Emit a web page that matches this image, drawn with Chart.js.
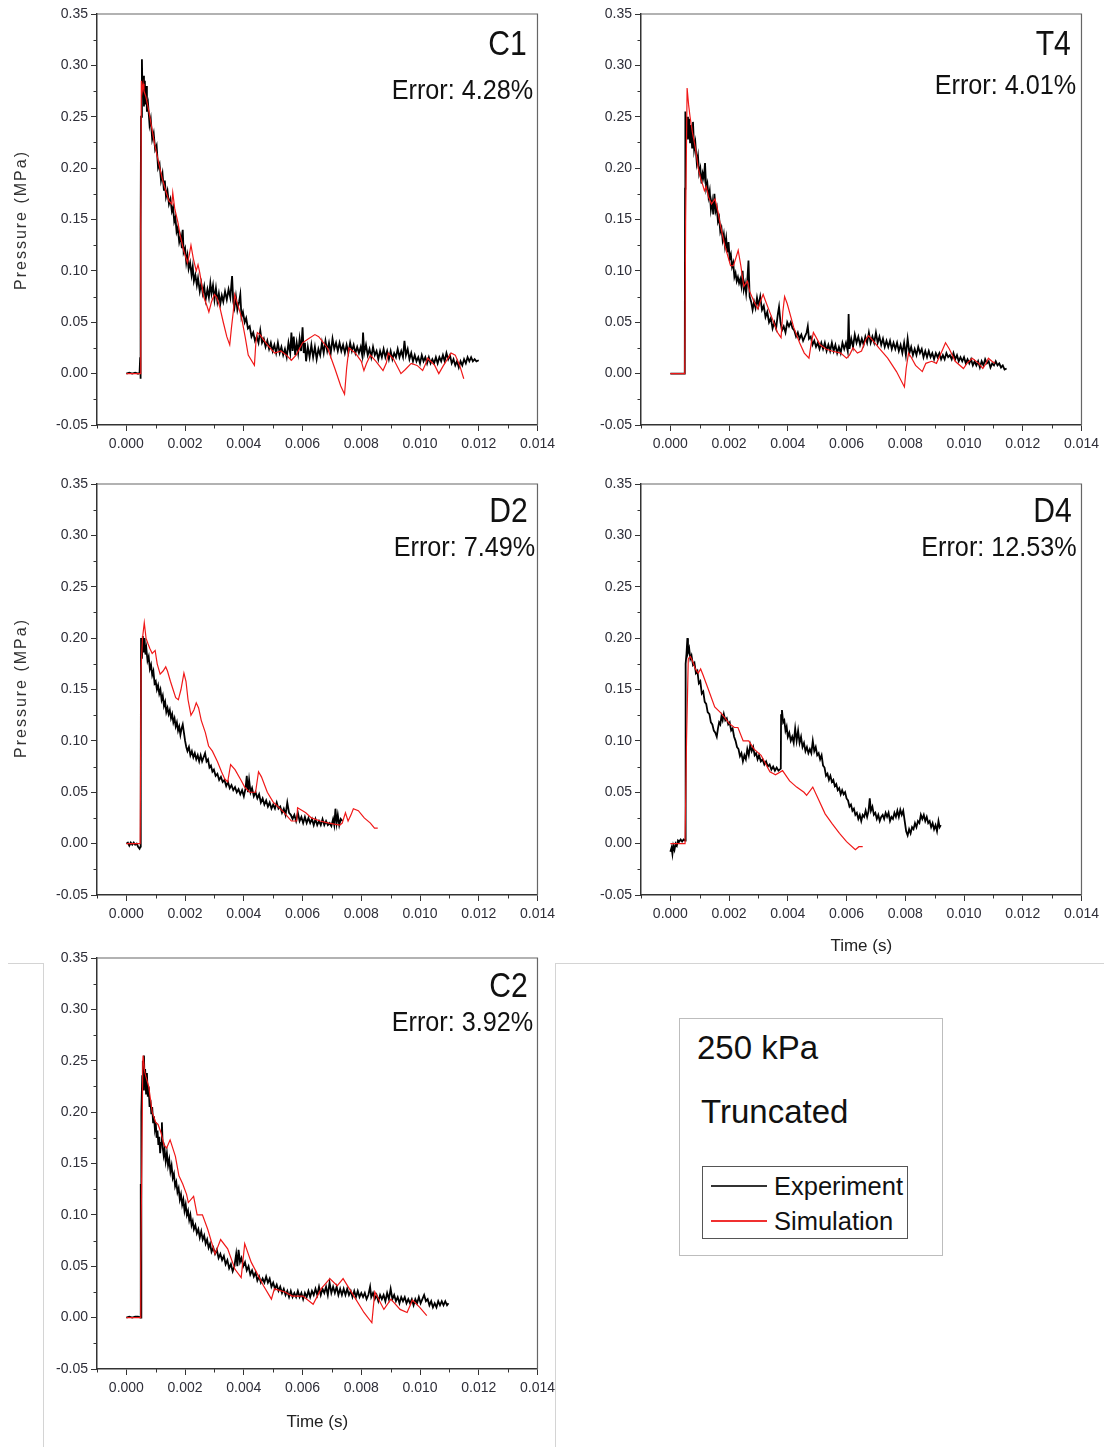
<!DOCTYPE html>
<html>
<head>
<meta charset="utf-8">
<script src="https://cdn.jsdelivr.net/npm/chart.js@4.4.1/dist/chart.umd.min.js"></script>
<style>
  body { margin: 0; background: #fff; }
  #page { position: relative; width: 1104px; height: 1447px; overflow: hidden; background: #fff;
          font-family: "Liberation Sans", Arial, sans-serif; }
  canvas { position: absolute; }
  .name, .err { position: absolute; white-space: nowrap; color: #111; line-height: 1;
                font-family: "Liberation Sans", Arial, sans-serif; transform-origin: right center; }
  .name { font-size: 35px; transform: scaleX(0.86); }
  .err { font-size: 28px; transform: scaleX(0.9); }
  .ytitle { position: absolute; white-space: nowrap; font-size: 16px; letter-spacing: 2px; color: #333;
            transform: translate(-50%, -50%) rotate(-90deg); line-height: 1; }
  .crop { position: absolute; background: #d4d4d4; }
  .box { position: absolute; box-sizing: border-box; }
  .leg { position: absolute; white-space: nowrap; color: #111; line-height: 1; }
</style>
</head>
<body>
<div id="page">
  <canvas id="c1" width="560" height="470" style="left:0;top:0"></canvas>
  <canvas id="t4" width="560" height="470" style="left:544px;top:0"></canvas>
  <canvas id="d2" width="560" height="490" style="left:0;top:470px"></canvas>
  <canvas id="d4" width="560" height="490" style="left:544px;top:470px"></canvas>
  <canvas id="c2" width="560" height="503" style="left:0;top:944px"></canvas>

  <div class="name" style="right:577px;top:25px">C1</div>
  <div class="err" style="right:571px;top:76px">Error: 4.28%</div>
  <div class="name" style="right:33px;top:25px">T4</div>
  <div class="err" style="right:28px;top:71px">Error: 4.01%</div>
  <div class="name" style="right:576px;top:492px">D2</div>
  <div class="err" style="right:569px;top:533px">Error: 7.49%</div>
  <div class="name" style="right:32px;top:492px">D4</div>
  <div class="err" style="right:27px;top:533px">Error: 12.53%</div>
  <div class="name" style="right:576px;top:967px">C2</div>
  <div class="err" style="right:571px;top:1008px">Error: 3.92%</div>

  <div class="ytitle" style="left:21px;top:220px">Pressure (MPa)</div>
  <div class="ytitle" style="left:21px;top:688px">Pressure (MPa)</div>

  <div class="crop" style="left:8px;top:963px;width:35px;height:1px"></div>
  <div class="crop" style="left:43px;top:963px;width:1px;height:484px"></div>
  <div class="crop" style="left:555px;top:963px;width:549px;height:1px"></div>
  <div class="crop" style="left:555px;top:963px;width:1px;height:484px"></div>

  <div class="box" style="left:679px;top:1018px;width:264px;height:238px;border:1px solid #bdbdbd"></div>
  <div class="leg" style="left:697px;top:1031px;font-size:33px">250 kPa</div>
  <div class="leg" style="left:701px;top:1095px;font-size:33px">Truncated</div>
  <div class="box" style="left:702px;top:1166px;width:206px;height:73px;border:1.5px solid #555"></div>
  <div class="box" style="left:711px;top:1185px;width:56px;height:1.5px;background:#333"></div>
  <div class="box" style="left:711px;top:1220px;width:56px;height:1.5px;background:#f03030"></div>
  <div class="leg" style="left:774px;top:1174px;font-size:25.5px">Experiment</div>
  <div class="leg" style="left:774px;top:1209px;font-size:25.5px">Simulation</div>
</div>

<script>
// axis ticks
const xTicks = [0, 0.002, 0.004, 0.006, 0.008, 0.010, 0.012, 0.014];
const xMinorTicks = [-0.001, 0.001, 0.003, 0.005, 0.007, 0.009, 0.011, 0.013];
const yTicks = [-0.05, 0, 0.05, 0.10, 0.15, 0.20, 0.25, 0.30, 0.35];
const yMinorTicks = [-0.025, 0.025, 0.075, 0.125, 0.175, 0.225, 0.275, 0.325];

// C1: [time (s), pressure (MPa)]
const c1Exp = [[0,0],[0.0001,0.001],[0.0002,0],[0.0003,0.001],[0.0004,0],[0.00045,0.001],[0.00047,0.016],[0.00048,-0.005],[0.00049,0.14],[0.0005,0.25],[0.00053,0.306],[0.00055,0.27],[0.00058,0.29],[0.0006,0.26],[0.00063,0.285],[0.00065,0.262],[0.00068,0.28],[0.0007,0.255],[0.00074,0.262],[0.00079,0.242],[0.00083,0.248],[0.00088,0.228],[0.00093,0.234],[0.00098,0.218],[0.00103,0.222],[0.00108,0.2],[0.00113,0.204],[0.00118,0.188],[0.00123,0.195],[0.00128,0.178],[0.00131,0.188],[0.00135,0.172],[0.0014,0.178],[0.00145,0.165],[0.0015,0.17],[0.00155,0.158],[0.00159,0.162],[0.00163,0.148],[0.00167,0.152],[0.00171,0.138],[0.00175,0.142],[0.0018,0.128],[0.00185,0.134],[0.00189,0.122],[0.00192,0.14],[0.00195,0.118],[0.002,0.122],[0.00204,0.108],[0.00208,0.115],[0.00212,0.102],[0.00217,0.108],[0.00222,0.096],[0.00226,0.104],[0.0023,0.09],[0.00235,0.096],[0.0024,0.086],[0.00244,0.093],[0.0025,0.08],[0.00255,0.088],[0.0026,0.078],[0.00265,0.085],[0.0027,0.072],[0.00276,0.082],[0.00281,0.074],[0.00286,0.088],[0.0029,0.078],[0.00295,0.086],[0.003,0.072],[0.00305,0.083],[0.0031,0.07],[0.00315,0.078],[0.0032,0.068],[0.00325,0.076],[0.0033,0.07],[0.00336,0.08],[0.00342,0.072],[0.00348,0.082],[0.00354,0.074],[0.0036,0.095],[0.00364,0.07],[0.00368,0.064],[0.00373,0.075],[0.00378,0.062],[0.00384,0.07],[0.00388,0.077],[0.00392,0.055],[0.00397,0.06],[0.00403,0.05],[0.00408,0.054],[0.00414,0.044],[0.0042,0.046],[0.00426,0.036],[0.00432,0.04],[0.00438,0.032],[0.00444,0.036],[0.0045,0.03],[0.00456,0.042],[0.00462,0.03],[0.00468,0.034],[0.00474,0.026],[0.0048,0.032],[0.00486,0.024],[0.00492,0.03],[0.00498,0.022],[0.00504,0.028],[0.0051,0.02],[0.00516,0.03],[0.00522,0.02],[0.00528,0.026],[0.00534,0.018],[0.0054,0.024],[0.00546,0.016],[0.00552,0.03],[0.00558,0.02],[0.00562,0.04],[0.00566,0.022],[0.0057,0.036],[0.00575,0.018],[0.0058,0.03],[0.00585,0.02],[0.0059,0.034],[0.00595,0.022],[0.006,0.045],[0.00604,0.02],[0.00608,0.03],[0.00612,0.012],[0.00618,0.026],[0.00624,0.016],[0.0063,0.028],[0.00636,0.016],[0.00642,0.026],[0.00648,0.014],[0.00654,0.024],[0.0066,0.018],[0.00666,0.03],[0.00672,0.02],[0.00678,0.032],[0.00684,0.022],[0.0069,0.03],[0.00696,0.02],[0.00702,0.034],[0.00708,0.024],[0.00714,0.03],[0.0072,0.022],[0.00726,0.03],[0.00732,0.022],[0.00738,0.028],[0.00744,0.02],[0.0075,0.028],[0.00756,0.02],[0.00762,0.03],[0.00768,0.022],[0.00774,0.028],[0.0078,0.02],[0.00786,0.026],[0.00792,0.02],[0.00798,0.026],[0.00803,0.018],[0.00806,0.04],[0.0081,0.02],[0.00816,0.028],[0.00822,0.018],[0.00828,0.024],[0.00834,0.016],[0.0084,0.026],[0.00846,0.018],[0.00852,0.022],[0.00858,0.014],[0.00864,0.022],[0.0087,0.016],[0.00876,0.024],[0.00882,0.016],[0.00888,0.022],[0.00894,0.014],[0.009,0.022],[0.00906,0.014],[0.00912,0.02],[0.00918,0.016],[0.00924,0.024],[0.0093,0.016],[0.00936,0.022],[0.00942,0.016],[0.00947,0.032],[0.00952,0.018],[0.00958,0.024],[0.00964,0.014],[0.0097,0.02],[0.00976,0.012],[0.00982,0.018],[0.00988,0.012],[0.00994,0.016],[0.01,0.01],[0.01006,0.018],[0.01012,0.012],[0.01018,0.016],[0.01024,0.01],[0.0103,0.016],[0.01036,0.01],[0.01042,0.014],[0.01048,0.01],[0.01054,0.016],[0.0106,0.01],[0.01066,0.016],[0.01072,0.012],[0.01078,0.018],[0.01084,0.012],[0.0109,0.02],[0.01096,0.014],[0.01102,0.018],[0.01108,0.01],[0.01114,0.014],[0.0112,0.008],[0.01126,0.012],[0.01132,0.006],[0.01138,0.012],[0.01144,0.008],[0.0115,0.014],[0.01156,0.01],[0.01162,0.016],[0.01168,0.012],[0.01174,0.016],[0.0118,0.012],[0.01186,0.014],[0.01192,0.012],[0.012,0.013]];
const c1Sim = [[0,0],[0.00047,0],[0.00049,0.14],[0.00051,0.285],[0.00054,0.275],[0.00057,0.282],[0.0006,0.275],[0.00066,0.27],[0.00072,0.262],[0.0008,0.25],[0.00086,0.24],[0.00095,0.225],[0.0011,0.205],[0.00122,0.19],[0.00134,0.178],[0.00145,0.168],[0.00155,0.165],[0.00158,0.176],[0.00165,0.16],[0.00175,0.148],[0.00183,0.135],[0.00195,0.12],[0.00208,0.108],[0.00214,0.115],[0.0022,0.125],[0.00228,0.112],[0.00238,0.1],[0.00244,0.106],[0.0025,0.098],[0.00263,0.075],[0.00272,0.068],[0.00281,0.06],[0.0029,0.07],[0.003,0.077],[0.00308,0.074],[0.00318,0.065],[0.0033,0.05],[0.00342,0.036],[0.00352,0.028],[0.00358,0.045],[0.00364,0.06],[0.00369,0.077],[0.00376,0.07],[0.00392,0.055],[0.00405,0.035],[0.00415,0.018],[0.00436,0.008],[0.00441,0.03],[0.00446,0.04],[0.00455,0.038],[0.00475,0.03],[0.00489,0.025],[0.00505,0.02],[0.00526,0.022],[0.00545,0.018],[0.00562,0.013],[0.00578,0.018],[0.006,0.03],[0.0062,0.034],[0.00642,0.038],[0.00655,0.036],[0.00685,0.025],[0.0071,0.005],[0.0073,-0.012],[0.00743,-0.02],[0.0075,0.005],[0.00758,0.025],[0.0078,0.02],[0.008,0.012],[0.00809,0.003],[0.00818,0.01],[0.00831,0.018],[0.0085,0.012],[0.00874,0.003],[0.00885,0.01],[0.00892,0.02],[0.0091,0.014],[0.00935,0],[0.0095,0.004],[0.0097,0.01],[0.0099,0.008],[0.01009,0.003],[0.0102,0.01],[0.01026,0.015],[0.0105,0.008],[0.01064,0],[0.0108,0.008],[0.01106,0.02],[0.0112,0.018],[0.01135,0.008],[0.01149,-0.005]];

// T4
const t4Exp = [[0,0],[0.0002,0],[0.0004,0],[0.00049,0],[0.0005,0.18],[0.00051,0.255],[0.00054,0.232],[0.00057,0.25],[0.0006,0.228],[0.00064,0.248],[0.00067,0.225],[0.0007,0.242],[0.00074,0.22],[0.00077,0.245],[0.00081,0.218],[0.00085,0.225],[0.0009,0.205],[0.00094,0.212],[0.00098,0.195],[0.00102,0.2],[0.00106,0.185],[0.0011,0.195],[0.00114,0.19],[0.00118,0.205],[0.00122,0.18],[0.00126,0.185],[0.0013,0.172],[0.00134,0.178],[0.00138,0.16],[0.00142,0.168],[0.00146,0.155],[0.0015,0.175],[0.00154,0.158],[0.00158,0.162],[0.00162,0.148],[0.00166,0.152],[0.0017,0.138],[0.00174,0.142],[0.00178,0.13],[0.00182,0.136],[0.00186,0.124],[0.0019,0.132],[0.00194,0.118],[0.00198,0.128],[0.00202,0.112],[0.00206,0.116],[0.0021,0.104],[0.00214,0.108],[0.00218,0.094],[0.00222,0.098],[0.00226,0.09],[0.0023,0.094],[0.00234,0.088],[0.00238,0.092],[0.00242,0.085],[0.00246,0.1],[0.0025,0.082],[0.00254,0.088],[0.00258,0.078],[0.00262,0.09],[0.00266,0.11],[0.0027,0.075],[0.00275,0.07],[0.0028,0.062],[0.00285,0.07],[0.0029,0.064],[0.00295,0.074],[0.003,0.066],[0.00306,0.075],[0.00312,0.062],[0.00318,0.066],[0.00324,0.055],[0.0033,0.06],[0.00336,0.05],[0.00342,0.054],[0.00348,0.044],[0.00354,0.05],[0.0036,0.044],[0.00366,0.058],[0.0037,0.065],[0.00375,0.05],[0.0038,0.042],[0.00386,0.046],[0.00392,0.04],[0.00398,0.05],[0.00404,0.046],[0.0041,0.05],[0.00416,0.044],[0.00422,0.042],[0.00428,0.036],[0.00434,0.04],[0.0044,0.034],[0.00446,0.038],[0.00452,0.032],[0.00458,0.036],[0.00464,0.04],[0.00468,0.046],[0.00472,0.034],[0.00478,0.036],[0.00484,0.028],[0.0049,0.032],[0.00496,0.026],[0.00502,0.03],[0.00508,0.024],[0.00514,0.03],[0.0052,0.024],[0.00526,0.03],[0.00532,0.022],[0.00538,0.028],[0.00544,0.022],[0.0055,0.03],[0.00556,0.022],[0.00562,0.028],[0.00568,0.02],[0.00574,0.026],[0.0058,0.02],[0.00586,0.03],[0.00592,0.024],[0.00598,0.03],[0.00604,0.022],[0.00607,0.058],[0.0061,0.024],[0.00616,0.034],[0.00622,0.026],[0.00628,0.038],[0.00634,0.03],[0.0064,0.036],[0.00646,0.028],[0.00652,0.034],[0.00658,0.028],[0.00664,0.036],[0.0067,0.03],[0.00676,0.04],[0.00682,0.03],[0.00688,0.036],[0.00694,0.03],[0.007,0.04],[0.00706,0.03],[0.00712,0.036],[0.00718,0.028],[0.00724,0.034],[0.0073,0.026],[0.00736,0.032],[0.00742,0.026],[0.00748,0.032],[0.00754,0.024],[0.0076,0.03],[0.00766,0.024],[0.00772,0.03],[0.00778,0.022],[0.00784,0.028],[0.0079,0.02],[0.00796,0.03],[0.00802,0.018],[0.00808,0.034],[0.00814,0.02],[0.0082,0.026],[0.00826,0.018],[0.00832,0.024],[0.00838,0.018],[0.00844,0.026],[0.0085,0.02],[0.00856,0.024],[0.00862,0.016],[0.00868,0.022],[0.00874,0.016],[0.0088,0.022],[0.00886,0.016],[0.00892,0.02],[0.00898,0.014],[0.00904,0.02],[0.0091,0.016],[0.00916,0.02],[0.00922,0.014],[0.00928,0.018],[0.00934,0.014],[0.0094,0.02],[0.00946,0.016],[0.00952,0.018],[0.00958,0.014],[0.00964,0.02],[0.0097,0.014],[0.00976,0.018],[0.00982,0.012],[0.00988,0.016],[0.00994,0.012],[0.01,0.016],[0.01006,0.01],[0.01012,0.014],[0.01018,0.01],[0.01024,0.014],[0.0103,0.008],[0.01036,0.012],[0.01042,0.008],[0.01048,0.012],[0.01054,0.006],[0.0106,0.012],[0.01066,0.008],[0.01072,0.014],[0.01078,0.01],[0.01084,0.012],[0.0109,0.006],[0.01096,0.01],[0.01102,0.008],[0.01108,0.012],[0.01114,0.008],[0.0112,0.01],[0.01126,0.006],[0.01132,0.008],[0.01138,0.004],[0.01145,0.005]];
const t4Sim = [[0,0],[0.00049,0],[0.00052,0.15],[0.00057,0.278],[0.00062,0.262],[0.00067,0.25],[0.00075,0.235],[0.00085,0.22],[0.00095,0.2],[0.00103,0.19],[0.00112,0.182],[0.00116,0.178],[0.00122,0.182],[0.0013,0.172],[0.0014,0.165],[0.00152,0.17],[0.00162,0.158],[0.0017,0.145],[0.00185,0.125],[0.00205,0.105],[0.00215,0.105],[0.00231,0.12],[0.0024,0.105],[0.0025,0.085],[0.00262,0.09],[0.0027,0.08],[0.00285,0.07],[0.00298,0.063],[0.00306,0.07],[0.00316,0.077],[0.00325,0.07],[0.00345,0.055],[0.00365,0.04],[0.00377,0.035],[0.00383,0.06],[0.00389,0.075],[0.00398,0.068],[0.0042,0.045],[0.0044,0.03],[0.00456,0.02],[0.00472,0.015],[0.0048,0.03],[0.00487,0.04],[0.00495,0.036],[0.0051,0.028],[0.0053,0.024],[0.0055,0.022],[0.0058,0.02],[0.006,0.015],[0.0061,0.018],[0.00622,0.025],[0.00637,0.02],[0.00651,0.022],[0.00665,0.033],[0.00675,0.037],[0.0069,0.032],[0.0071,0.025],[0.0074,0.015],[0.0077,0.002],[0.00797,-0.013],[0.00803,0.005],[0.00811,0.02],[0.0082,0.016],[0.00835,0.008],[0.00858,0.002],[0.0087,0.01],[0.0089,0.012],[0.00906,0.01],[0.00925,0.022],[0.00937,0.03],[0.0095,0.024],[0.0097,0.012],[0.00998,0.005],[0.0101,0.01],[0.01028,0.015],[0.0105,0.01],[0.01064,0.005],[0.01075,0.01],[0.01083,0.015],[0.01095,0.012],[0.01105,0.01]];

// D2
const d2Exp = [[0,0],[0.00005,0.001],[0.0001,-0.002],[0.00015,0.001],[0.0002,-0.001],[0.00025,0.001],[0.0003,-0.001],[0.00035,0],[0.0004,-0.003],[0.00045,-0.005],[0.00048,-0.003],[0.00049,0.075],[0.0005,0.2],[0.00053,0.18],[0.00056,0.202],[0.00059,0.186],[0.00062,0.2],[0.00065,0.184],[0.00068,0.19],[0.00072,0.178],[0.00076,0.182],[0.0008,0.17],[0.00084,0.174],[0.00088,0.164],[0.00092,0.168],[0.00096,0.156],[0.001,0.158],[0.00104,0.15],[0.00108,0.154],[0.00112,0.146],[0.00116,0.15],[0.0012,0.14],[0.00124,0.144],[0.00128,0.134],[0.00132,0.138],[0.00136,0.128],[0.0014,0.132],[0.00144,0.126],[0.00148,0.13],[0.00152,0.122],[0.00156,0.126],[0.0016,0.118],[0.00164,0.122],[0.00168,0.114],[0.00172,0.118],[0.00176,0.11],[0.0018,0.114],[0.00184,0.106],[0.00188,0.112],[0.00192,0.116],[0.00196,0.108],[0.002,0.1],[0.00204,0.094],[0.00208,0.09],[0.00213,0.094],[0.00218,0.086],[0.00223,0.09],[0.00228,0.084],[0.00233,0.088],[0.00238,0.082],[0.00243,0.086],[0.00248,0.08],[0.00253,0.086],[0.00258,0.08],[0.00263,0.084],[0.00268,0.088],[0.00273,0.08],[0.00278,0.082],[0.00283,0.074],[0.00288,0.076],[0.00293,0.07],[0.00298,0.072],[0.00304,0.066],[0.0031,0.068],[0.00316,0.062],[0.00322,0.065],[0.00328,0.06],[0.00334,0.062],[0.0034,0.056],[0.00346,0.06],[0.00352,0.054],[0.00358,0.057],[0.00364,0.052],[0.0037,0.055],[0.00376,0.05],[0.00382,0.053],[0.00388,0.048],[0.00394,0.052],[0.004,0.046],[0.00406,0.054],[0.0041,0.066],[0.00414,0.05],[0.00418,0.062],[0.00423,0.05],[0.00428,0.054],[0.00434,0.046],[0.0044,0.05],[0.00446,0.044],[0.00452,0.048],[0.00458,0.04],[0.00464,0.044],[0.0047,0.038],[0.00476,0.042],[0.00482,0.036],[0.00488,0.04],[0.00494,0.034],[0.005,0.038],[0.00506,0.034],[0.00512,0.04],[0.00518,0.034],[0.00524,0.036],[0.0053,0.03],[0.00536,0.034],[0.00542,0.028],[0.00548,0.04],[0.00554,0.03],[0.0056,0.028],[0.00566,0.024],[0.00572,0.028],[0.00578,0.022],[0.00584,0.03],[0.0059,0.022],[0.00596,0.026],[0.00602,0.02],[0.00608,0.026],[0.00614,0.02],[0.0062,0.025],[0.00626,0.02],[0.00632,0.024],[0.00638,0.018],[0.00644,0.024],[0.0065,0.018],[0.00656,0.022],[0.00662,0.018],[0.00668,0.024],[0.00674,0.018],[0.0068,0.022],[0.00686,0.018],[0.00692,0.02],[0.00698,0.017],[0.00704,0.024],[0.00708,0.018],[0.00712,0.034],[0.00716,0.02],[0.0072,0.028],[0.00725,0.018],[0.0073,0.024],[0.00736,0.022]];
const d2Sim = [[0,0],[0.00047,0],[0.0005,0.17],[0.00055,0.2],[0.00061,0.215],[0.00067,0.2],[0.00073,0.195],[0.0008,0.19],[0.00088,0.185],[0.00098,0.188],[0.00105,0.175],[0.00115,0.165],[0.00125,0.168],[0.00134,0.172],[0.0014,0.168],[0.0015,0.158],[0.00159,0.15],[0.00168,0.142],[0.00177,0.14],[0.00186,0.15],[0.00196,0.166],[0.00203,0.158],[0.0021,0.14],[0.0022,0.125],[0.0023,0.13],[0.00238,0.137],[0.00246,0.132],[0.00255,0.12],[0.00269,0.108],[0.0028,0.095],[0.00293,0.09],[0.0031,0.08],[0.00324,0.07],[0.00335,0.063],[0.00345,0.06],[0.00355,0.077],[0.0037,0.072],[0.0039,0.062],[0.00403,0.055],[0.0042,0.05],[0.0044,0.05],[0.0045,0.07],[0.0046,0.065],[0.0048,0.05],[0.00501,0.04],[0.0052,0.035],[0.00538,0.03],[0.00562,0.022],[0.0058,0.022],[0.00583,0.035],[0.006,0.032],[0.00611,0.03],[0.0063,0.025],[0.0066,0.022],[0.0069,0.02],[0.00727,0.018],[0.00735,0.02],[0.00746,0.03],[0.00755,0.022],[0.00765,0.028],[0.00773,0.034],[0.0079,0.032],[0.0081,0.025],[0.00831,0.02],[0.00845,0.015],[0.00856,0.015]];

// D4
const d4Exp = [[0,-0.008],[0.00004,-0.004],[0.00007,-0.01],[0.0001,-0.002],[0.00014,-0.006],[0.00018,0],[0.00022,-0.002],[0.00026,0.003],[0.0003,0.002],[0.00035,0.004],[0.0004,0.002],[0.00045,0.004],[0.0005,0.003],[0.00051,0.09],[0.00053,0.175],[0.00055,0.185],[0.00058,0.2],[0.0006,0.186],[0.00064,0.19],[0.00068,0.18],[0.00072,0.183],[0.00077,0.174],[0.00082,0.176],[0.00087,0.166],[0.00092,0.168],[0.00097,0.156],[0.00102,0.158],[0.00107,0.146],[0.00112,0.148],[0.00117,0.138],[0.00122,0.136],[0.00127,0.128],[0.00133,0.126],[0.00138,0.118],[0.00143,0.116],[0.00148,0.11],[0.00153,0.108],[0.00158,0.104],[0.00162,0.112],[0.00166,0.118],[0.0017,0.116],[0.00174,0.124],[0.00178,0.12],[0.00182,0.126],[0.00187,0.12],[0.00192,0.122],[0.00197,0.116],[0.00202,0.118],[0.00207,0.11],[0.00212,0.112],[0.00217,0.104],[0.00222,0.1],[0.00227,0.094],[0.00232,0.092],[0.00237,0.085],[0.00242,0.088],[0.00247,0.08],[0.00252,0.086],[0.00257,0.082],[0.00262,0.092],[0.00267,0.086],[0.00272,0.096],[0.00277,0.09],[0.00282,0.094],[0.00287,0.086],[0.00292,0.088],[0.00297,0.082],[0.00302,0.086],[0.00308,0.08],[0.00314,0.082],[0.0032,0.077],[0.00326,0.08],[0.00332,0.075],[0.00338,0.077],[0.00344,0.072],[0.0035,0.075],[0.00356,0.071],[0.00362,0.074],[0.00368,0.071],[0.00376,0.073],[0.00377,0.125],[0.0038,0.13],[0.00384,0.118],[0.00388,0.12],[0.00392,0.11],[0.00396,0.114],[0.004,0.104],[0.00405,0.108],[0.0041,0.1],[0.00415,0.104],[0.0042,0.098],[0.00425,0.112],[0.0043,0.1],[0.00435,0.11],[0.0044,0.098],[0.00445,0.104],[0.0045,0.094],[0.00455,0.098],[0.0046,0.09],[0.00465,0.094],[0.0047,0.088],[0.00475,0.092],[0.0048,0.088],[0.00485,0.1],[0.0049,0.09],[0.00495,0.094],[0.005,0.086],[0.00505,0.088],[0.0051,0.082],[0.00515,0.086],[0.0052,0.076],[0.00525,0.074],[0.0053,0.066],[0.00535,0.068],[0.0054,0.062],[0.00545,0.066],[0.0055,0.06],[0.00555,0.062],[0.0056,0.056],[0.00565,0.058],[0.0057,0.052],[0.00575,0.054],[0.0058,0.048],[0.00585,0.052],[0.0059,0.048],[0.00595,0.05],[0.006,0.044],[0.00605,0.042],[0.0061,0.036],[0.00615,0.038],[0.0062,0.032],[0.00625,0.034],[0.0063,0.028],[0.00635,0.03],[0.0064,0.024],[0.00645,0.028],[0.0065,0.022],[0.00655,0.028],[0.0066,0.026],[0.00665,0.032],[0.0067,0.026],[0.00675,0.032],[0.00679,0.044],[0.00683,0.032],[0.00688,0.036],[0.00693,0.028],[0.00698,0.03],[0.00703,0.024],[0.00708,0.028],[0.00713,0.022],[0.00718,0.026],[0.00723,0.028],[0.00728,0.024],[0.00733,0.03],[0.00738,0.026],[0.00743,0.03],[0.00748,0.022],[0.00753,0.026],[0.00758,0.024],[0.00763,0.03],[0.00768,0.026],[0.00773,0.032],[0.00778,0.026],[0.00783,0.033],[0.00788,0.028],[0.00793,0.032],[0.00798,0.022],[0.00803,0.012],[0.00808,0.008],[0.00813,0.014],[0.00818,0.01],[0.00823,0.016],[0.00828,0.014],[0.00833,0.02],[0.00838,0.016],[0.00843,0.022],[0.00848,0.02],[0.00853,0.028],[0.00858,0.024],[0.00863,0.028],[0.00868,0.022],[0.00873,0.026],[0.00878,0.02],[0.00883,0.022],[0.00888,0.016],[0.00893,0.02],[0.00898,0.014],[0.00903,0.018],[0.00908,0.012],[0.00913,0.022],[0.00917,0.016],[0.00921,0.018]];
const d4Sim = [[0,0],[0.0005,0],[0.00051,0],[0.00055,0.1],[0.00061,0.18],[0.00068,0.182],[0.00075,0.178],[0.00085,0.17],[0.00095,0.166],[0.00103,0.17],[0.0011,0.165],[0.00127,0.152],[0.00151,0.133],[0.00176,0.126],[0.002,0.117],[0.00218,0.113],[0.0023,0.113],[0.00248,0.1],[0.00267,0.1],[0.00285,0.092],[0.00309,0.086],[0.00339,0.07],[0.00358,0.067],[0.00382,0.071],[0.00406,0.061],[0.0043,0.055],[0.00455,0.05],[0.00464,0.047],[0.00485,0.055],[0.00503,0.044],[0.00527,0.029],[0.00552,0.019],[0.00576,0.01],[0.006,0.002],[0.0063,-0.006],[0.00642,-0.003],[0.00655,-0.003]];

// C2
const c2Exp = [[0,0],[0.0001,0.001],[0.0002,0],[0.0003,0.001],[0.0004,0.001],[0.00048,0],[0.00049,0.13],[0.0005,0],[0.00051,0.2],[0.00054,0.235],[0.00056,0.25],[0.00058,0.222],[0.0006,0.255],[0.00062,0.228],[0.00064,0.242],[0.00067,0.218],[0.0007,0.238],[0.00073,0.215],[0.00076,0.225],[0.00079,0.205],[0.00082,0.212],[0.00085,0.198],[0.00088,0.205],[0.00091,0.19],[0.00094,0.196],[0.00097,0.184],[0.001,0.19],[0.00103,0.175],[0.00106,0.182],[0.00109,0.168],[0.00112,0.176],[0.00115,0.16],[0.00118,0.17],[0.00121,0.19],[0.00124,0.165],[0.00127,0.158],[0.0013,0.164],[0.00134,0.152],[0.00138,0.16],[0.00142,0.148],[0.00146,0.154],[0.0015,0.142],[0.00154,0.148],[0.00158,0.136],[0.00162,0.14],[0.00166,0.128],[0.0017,0.132],[0.00174,0.122],[0.00178,0.126],[0.00182,0.115],[0.00186,0.12],[0.0019,0.11],[0.00194,0.115],[0.00198,0.104],[0.00202,0.11],[0.00206,0.1],[0.0021,0.104],[0.00214,0.095],[0.00218,0.1],[0.00222,0.09],[0.00226,0.094],[0.0023,0.086],[0.00235,0.09],[0.0024,0.082],[0.00245,0.086],[0.0025,0.078],[0.00255,0.084],[0.0026,0.076],[0.00265,0.08],[0.0027,0.072],[0.00275,0.076],[0.0028,0.068],[0.00285,0.072],[0.0029,0.064],[0.00296,0.068],[0.00302,0.062],[0.00308,0.066],[0.00314,0.058],[0.0032,0.062],[0.00326,0.056],[0.00332,0.06],[0.00338,0.052],[0.00344,0.056],[0.0035,0.048],[0.00356,0.052],[0.00362,0.045],[0.00368,0.05],[0.00374,0.062],[0.00378,0.05],[0.00382,0.066],[0.00387,0.054],[0.00392,0.058],[0.00398,0.05],[0.00404,0.054],[0.0041,0.046],[0.00416,0.05],[0.00422,0.042],[0.00428,0.046],[0.00434,0.04],[0.0044,0.044],[0.00446,0.036],[0.00452,0.04],[0.00458,0.034],[0.00464,0.038],[0.0047,0.034],[0.00476,0.04],[0.00482,0.034],[0.00488,0.038],[0.00494,0.03],[0.005,0.034],[0.00506,0.028],[0.00512,0.032],[0.00518,0.026],[0.00524,0.03],[0.0053,0.024],[0.00536,0.028],[0.00542,0.022],[0.00548,0.026],[0.00554,0.02],[0.0056,0.026],[0.00566,0.02],[0.00572,0.024],[0.00578,0.02],[0.00584,0.026],[0.0059,0.02],[0.00596,0.024],[0.00602,0.018],[0.00608,0.024],[0.00614,0.02],[0.0062,0.026],[0.00626,0.02],[0.00632,0.026],[0.00638,0.022],[0.00644,0.028],[0.0065,0.022],[0.00656,0.03],[0.00662,0.022],[0.00668,0.028],[0.00674,0.024],[0.0068,0.03],[0.00686,0.022],[0.00692,0.034],[0.00698,0.024],[0.00704,0.03],[0.0071,0.024],[0.00716,0.03],[0.00722,0.022],[0.00728,0.028],[0.00734,0.022],[0.0074,0.028],[0.00746,0.022],[0.00752,0.028],[0.00758,0.022],[0.00764,0.026],[0.0077,0.02],[0.00776,0.026],[0.00782,0.02],[0.00788,0.026],[0.00794,0.02],[0.008,0.024],[0.00806,0.02],[0.00812,0.024],[0.00818,0.018],[0.00824,0.022],[0.0083,0.03],[0.00834,0.02],[0.0084,0.024],[0.00846,0.018],[0.00852,0.022],[0.00858,0.016],[0.00864,0.022],[0.0087,0.018],[0.00876,0.022],[0.00882,0.016],[0.00888,0.024],[0.00894,0.018],[0.009,0.028],[0.00906,0.018],[0.00912,0.022],[0.00918,0.016],[0.00924,0.02],[0.0093,0.014],[0.00936,0.02],[0.00942,0.016],[0.00948,0.02],[0.00954,0.014],[0.0096,0.018],[0.00966,0.014],[0.00972,0.018],[0.00978,0.012],[0.00984,0.018],[0.0099,0.014],[0.00996,0.02],[0.01002,0.014],[0.01008,0.018],[0.01014,0.022],[0.0102,0.016],[0.01026,0.018],[0.01032,0.012],[0.01038,0.016],[0.01044,0.01],[0.0105,0.014],[0.01056,0.01],[0.01062,0.016],[0.01068,0.012],[0.01074,0.016],[0.0108,0.012],[0.01086,0.016],[0.01092,0.012],[0.01097,0.014]];
const c2Sim = [[0,0],[0.00048,0],[0.00049,0.05],[0.00056,0.25],[0.00057,0.255],[0.00062,0.24],[0.00066,0.235],[0.00076,0.225],[0.00088,0.2],[0.001,0.19],[0.00108,0.188],[0.00118,0.18],[0.00128,0.168],[0.00137,0.165],[0.00149,0.173],[0.00167,0.157],[0.00179,0.138],[0.00192,0.13],[0.00205,0.12],[0.00211,0.112],[0.00229,0.118],[0.00241,0.1],[0.00259,0.1],[0.00277,0.086],[0.00302,0.062],[0.00321,0.076],[0.00345,0.067],[0.0037,0.047],[0.00391,0.039],[0.00403,0.072],[0.00425,0.054],[0.00467,0.031],[0.00494,0.018],[0.00504,0.028],[0.0054,0.025],[0.00565,0.021],[0.00601,0.021],[0.00636,0.013],[0.00663,0.028],[0.00693,0.038],[0.00718,0.031],[0.00738,0.038],[0.00766,0.025],[0.00809,0.005],[0.00836,-0.005],[0.00846,0.025],[0.00877,0.008],[0.00901,0.018],[0.00932,0.008],[0.00956,0.005],[0.00974,0.017],[0.00999,0.01],[0.01023,0.002]];

// frame round the plot area and the short minor ticks
const frameAndMinor = {
  id: 'frameAndMinor',
  afterDraw(chart) {
    const {ctx, chartArea: a, scales: {x, y}} = chart;
    ctx.save();
    ctx.strokeStyle = '#666';
    ctx.lineWidth = 1.2;
    ctx.beginPath();
    ctx.moveTo(a.left, a.top); ctx.lineTo(a.right, a.top); ctx.lineTo(a.right, a.bottom);
    ctx.stroke();
    ctx.strokeStyle = '#333';
    ctx.lineWidth = 1;
    ctx.beginPath();
    xMinorTicks.forEach(v => {
      const px = Math.round(x.getPixelForValue(v)) + 0.5;
      ctx.moveTo(px, a.bottom); ctx.lineTo(px, a.bottom + 3.5);
    });
    yMinorTicks.forEach(v => {
      const py = Math.round(y.getPixelForValue(v)) + 0.5;
      ctx.moveTo(a.left - 3.5, py); ctx.lineTo(a.left, py);
    });
    ctx.stroke();
    ctx.restore();
  }
};

function makeChart(id, exp, sim, xHeight, xTitle, titlePad) {
  const toXY = arr => arr.map(p => ({x: p[0], y: p[1]}));
  const tickFont = {family: '"Liberation Sans", Arial, sans-serif', size: 14};
  return new Chart(document.getElementById(id), {
    type: 'line',
    data: {
      datasets: [
        {label: 'Simulation', data: toXY(sim), borderColor: '#f01818', borderWidth: 1.2, pointRadius: 0, tension: 0},
        {label: 'Experiment', data: toXY(exp), borderColor: '#000', borderWidth: 1.8, pointRadius: 0, tension: 0}
      ]
    },
    options: {
      responsive: false,
      animation: false,
      events: [],
      layout: {padding: {top: 14, right: 22, left: 0, bottom: 0}},
      plugins: {legend: {display: false}, tooltip: {enabled: false}},
      scales: {
        x: {
          type: 'linear', min: -0.001, max: 0.014,
          afterBuildTicks: s => { s.ticks = xTicks.map(v => ({value: v})); },
          afterFit: s => { s.height = xHeight; },
          border: {display: true, color: '#333', width: 1.5},
          grid: {drawOnChartArea: false, drawTicks: true, tickLength: 6, color: '#333'},
          ticks: {autoSkip: false, maxRotation: 0, padding: 5, color: '#2e2e38', font: tickFont,
                  callback: v => v.toFixed(3)},
          title: {display: xTitle, text: 'Time (s)', color: '#222',
                  font: {family: '"Liberation Sans", Arial, sans-serif', size: 17},
                  padding: {top: 0, bottom: titlePad}}
        },
        y: {
          type: 'linear', min: -0.05, max: 0.35,
          afterBuildTicks: s => { s.ticks = yTicks.map(v => ({value: v})); },
          afterFit: s => { s.width = 97; },
          border: {display: true, color: '#333', width: 1.5},
          grid: {drawOnChartArea: false, drawTicks: true, tickLength: 6, color: '#333'},
          ticks: {autoSkip: false, padding: 3, color: '#2e2e38', font: tickFont,
                  callback: v => v.toFixed(2)}
        }
      }
    },
    plugins: [frameAndMinor]
  });
}

makeChart('c1', c1Exp, c1Sim, 45, false, 0);
makeChart('t4', t4Exp, t4Sim, 45, false, 0);
makeChart('d2', d2Exp, d2Sim, 65, false, 0);
makeChart('d4', d4Exp, d4Sim, 65, true, 3.8);
makeChart('c2', c2Exp, c2Sim, 78, true, 14.8);
</script>
</body>
</html>
